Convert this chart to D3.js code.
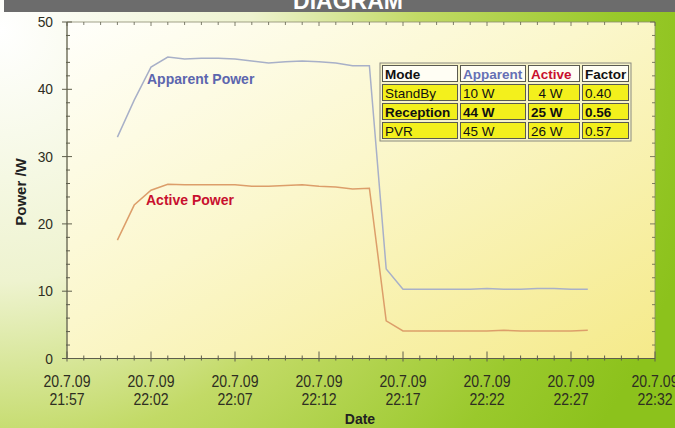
<!DOCTYPE html>
<html><head><meta charset="utf-8">
<script src="https://cdn.jsdelivr.net/npm/d3@7"></script>
<style>html,body{margin:0;padding:0;overflow:hidden;background:#fff}</style>
</head><body><svg id="c" width="675" height="428"></svg>
<script>
// ---- data ----
const times = ["22:00","22:01","22:02","22:03","22:04","22:05","22:06","22:07","22:08","22:09","22:10","22:11","22:12","22:13","22:14","22:15","22:16","22:17","22:18","22:19","22:20","22:21","22:22","22:23","22:24","22:25","22:26","22:27","22:28"];
const apparent = [32.9,38.4,43.3,44.8,44.5,44.6,44.6,44.5,44.2,43.9,44.1,44.2,44.1,43.9,43.5,43.5,13.3,10.3,10.3,10.3,10.3,10.3,10.4,10.3,10.3,10.4,10.4,10.3,10.3];
const active = [17.6,22.8,25.0,25.9,25.8,25.8,25.8,25.8,25.6,25.6,25.7,25.8,25.6,25.5,25.2,25.3,5.6,4.1,4.1,4.1,4.1,4.1,4.1,4.2,4.1,4.1,4.1,4.1,4.2];
const yTicks = [0,10,20,30,40,50];
const xTickTimes = ["21:57","22:02","22:07","22:12","22:17","22:22","22:27","22:32"];
const dateText = "20.7.09";
const tableHeader = ["Mode","Apparent","Active","Factor"];
const tableModes = ["StandBy","Reception","PVR"];
const tableApparent = ["10 W","44 W","45 W"];
const tableActive = ["\u20074 W","25 W","26 W"];
const tableFactor = ["0.40","0.56","0.57"];
const boldRow = [false,true,false];

// ---- setup ----
const parse = d3.timeParse("%Y-%m-%d %H:%M");
const t = s => parse("2009-07-20 " + s);
const svg = d3.select("#c");
const W = 675, H = 428;
const L = 67, R = 655, T = 22, B = 358.5;
const FONT = "'Liberation Sans', Arial, sans-serif";

const defs = svg.append("defs");
const bg = defs.append("radialGradient").attr("id","bg").attr("gradientUnits","userSpaceOnUse")
  .attr("cx",0).attr("cy",30).attr("r",720);
bg.append("stop").attr("offset",0).attr("stop-color","#ffffff");
bg.append("stop").attr("offset",0.35).attr("stop-color","#eef3cf");
bg.append("stop").attr("offset",0.58).attr("stop-color","#c2da66");
bg.append("stop").attr("offset",0.85).attr("stop-color","#9ac92c");
bg.append("stop").attr("offset",1).attr("stop-color","#8cc21c");
const pg = defs.append("linearGradient").attr("id","pg").attr("x1",0).attr("y1",0).attr("x2",1).attr("y2",1);
pg.append("stop").attr("offset",0).attr("stop-color","#fffffb");
pg.append("stop").attr("offset",0.45).attr("stop-color","#fbf7cc");
pg.append("stop").attr("offset",1).attr("stop-color","#f5ea8a");

svg.append("rect").attr("width",W).attr("height",H).attr("fill","url(#bg)");
svg.append("rect").attr("x",4).attr("y",0).attr("width",W-4).attr("height",12).attr("fill","#6c6c6c");
svg.append("text").attr("x",348).attr("y",9).attr("text-anchor","middle")
  .attr("font-family",FONT).attr("font-weight","bold").attr("font-size",23).attr("fill","#fff").text("DIAGRAM");

svg.append("rect").attr("x",L).attr("y",T).attr("width",R-L).attr("height",B-T).attr("fill","url(#pg)");

const x = d3.scaleTime().domain([t(xTickTimes[0]), t(xTickTimes[xTickTimes.length-1])]).range([L,R]);
const y = d3.scaleLinear().domain([0,50]).range([B,T]);

const axCol = "#5e5e4c";
const g = svg.append("g").attr("stroke",axCol).attr("stroke-width",1).attr("fill","none");
g.append("path").attr("d",`M${L},${T}H${R}V${B}H${L}Z`).attr("stroke","#8a8a70").attr("stroke-width",0.8);
g.append("line").attr("x1",L).attr("x2",R).attr("y1",B).attr("y2",B);
g.append("line").attr("x1",L).attr("x2",L).attr("y1",T).attr("y2",B);
const minutes = d3.timeMinute.range(x.domain()[0], d3.timeMinute.offset(x.domain()[1],1));
const majorSet = new Set(xTickTimes.map(s => +t(s)));
minutes.forEach(m => {
  const xx = x(m); const maj = majorSet.has(+m);
  g.append("line").attr("x1",xx).attr("x2",xx).attr("y1",B-(maj?7:3)).attr("y2",B+(maj?3:2));
  g.append("line").attr("x1",xx).attr("x2",xx).attr("y1",T).attr("y2",T+(maj?4:3)).attr("stroke-width",0.8);
});
d3.range(0,51,2).forEach(v => {
  const yy = y(v); const maj = v % 10 === 0;
  g.append("line").attr("x1",L-(maj?5:1)).attr("x2",L+(maj?5:3)).attr("y1",yy).attr("y2",yy);
  g.append("line").attr("x1",R-(maj?5:3)).attr("x2",R).attr("y1",yy).attr("y2",yy).attr("stroke-width",0.8);
});

const lab = svg.append("g").attr("font-family",FONT).attr("fill","#2e2e22");
yTicks.forEach(v => {
  lab.append("text").attr("transform",`translate(53,${y(v)+5}) scale(0.92,1)`)
    .attr("text-anchor","end").attr("font-size",15).text(v);
});
xTickTimes.forEach(s => {
  const xx = x(t(s));
  lab.append("text").attr("transform",`translate(${xx},387) scale(0.88,1)`)
    .attr("text-anchor","middle").attr("font-size",16).text(dateText);
  lab.append("text").attr("transform",`translate(${xx},405) scale(0.88,1)`)
    .attr("text-anchor","middle").attr("font-size",16).text(s);
});
svg.append("text").attr("x",360).attr("y",424).attr("text-anchor","middle")
  .attr("font-family",FONT).attr("font-weight","bold").attr("font-size",14).attr("fill","#222").text("Date");
svg.append("text").attr("transform","translate(26,192) rotate(-90)").attr("text-anchor","middle")
  .attr("font-family",FONT).attr("font-weight","bold").attr("font-size",15).attr("fill","#222").text("Power /W");

const line = vals => d3.line().x((d,i) => x(t(times[i]))).y(d => y(d))(vals);
svg.append("path").attr("d",line(apparent)).attr("fill","none").attr("stroke","#a8b0c8").attr("stroke-width",1.5);
svg.append("path").attr("d",line(active)).attr("fill","none").attr("stroke","#dc9e6a").attr("stroke-width",1.5);

svg.append("text").attr("x",147).attr("y",84).attr("font-family",FONT).attr("font-weight","bold")
  .attr("font-size",14).attr("fill","#5c66ae").text("Apparent Power");
svg.append("text").attr("x",146).attr("y",205).attr("font-family",FONT).attr("font-weight","bold")
  .attr("font-size",14).attr("fill","#c8102e").text("Active Power");

const colX = [381,459,527,581,630];
const rowY = [64,83,102,121,140];
const tb = svg.append("g").attr("font-family",FONT).attr("font-size",13.5);
tb.append("rect").attr("x",colX[0]-1).attr("y",rowY[0]-1).attr("width",colX[4]-colX[0]+2).attr("height",rowY[4]-rowY[0]+2)
  .attr("fill","#f6f3c8").attr("stroke","#8a8a80").attr("stroke-width",1);
const headColors = ["#111","#6670b4","#c8102e","#111"];
for (let r = 0; r < 4; r++) {
  for (let c = 0; c < 4; c++) {
    tb.append("rect").attr("x",colX[c]+1.5).attr("y",rowY[r]+1.5)
      .attr("width",colX[c+1]-colX[c]-3).attr("height",rowY[r+1]-rowY[r]-3)
      .attr("fill", r === 0 ? "#fffef4" : "#f3f01c").attr("stroke","#5a5a50").attr("stroke-width",1);
    let txt, col = "#111", bold = false;
    if (r === 0) { txt = tableHeader[c]; col = headColors[c]; bold = true; }
    else { txt = [tableModes,tableApparent,tableActive,tableFactor][c][r-1]; bold = boldRow[r-1]; }
    tb.append("text").attr("x",colX[c]+4).attr("y",rowY[r]+14.5)
      .attr("fill",col).attr("font-weight",bold?"bold":"normal").text(txt);
  }
}
</script>
</body></html>
